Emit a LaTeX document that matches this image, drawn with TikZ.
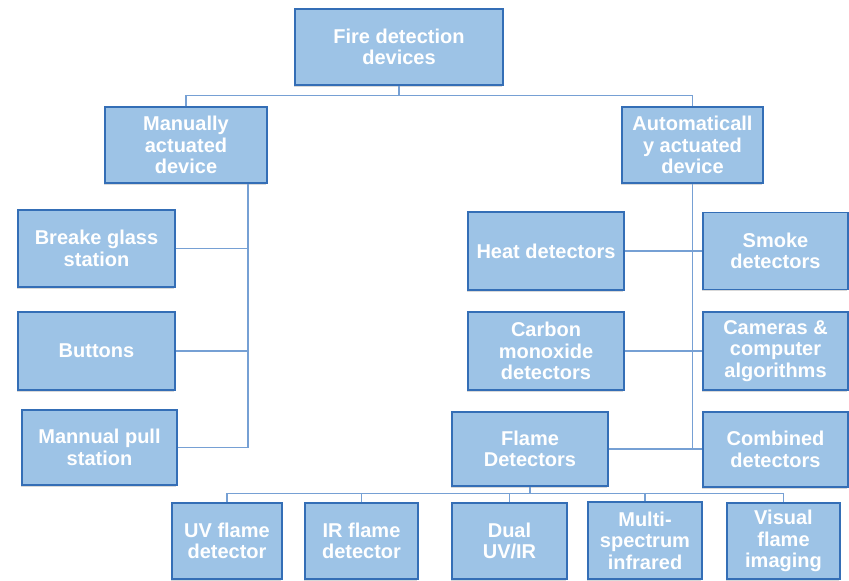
\documentclass[tikz,border=0pt]{standalone}
\usepackage{fontspec}
\setmainfont{Liberation Sans}
\usetikzlibrary{shadows}
\definecolor{boxfill}{RGB}{157,195,230}
\definecolor{boxline}{RGB}{52,110,182}
\definecolor{wire}{RGB}{118,160,212}
\tikzset{
  blk/.style={draw=boxline, line width=1.5pt, fill=boxfill, inner sep=0pt,
    align=center, text=white, font=\fontsize{20}{21.5}\selectfont\bfseries,
    drop shadow={shadow xshift=-1.5pt, shadow yshift=-1.5pt, opacity=0.25, fill=black!60}},
  link/.style={draw=wire, line width=1.3pt}
}
\begin{document}
\begin{tikzpicture}[x=1pt, y=-1pt]
\useasboundingbox (0,0) rectangle (849,581);

% root
\node[blk, minimum width=208pt, minimum height=76pt] (root) at (399,47) {Fire detection\\devices};

% second level
\node[blk, minimum width=162pt, minimum height=76pt] (manual) at (186,145) {Manually\\actuated\\device};
\node[blk, minimum width=141pt, minimum height=76pt] (auto) at (692.5,145) {Automaticall\\y actuated\\device};

% manual branch
\node[blk, minimum width=157pt, minimum height=77pt] (glass) at (96.5,248.5) {Breake glass\\station};
\node[blk, minimum width=157pt, minimum height=78pt] (buttons) at (96.5,351) {Buttons};
\node[blk, minimum width=155pt, minimum height=75pt] (pull) at (99.5,447.5) {Mannual pull\\station};

% automatic branch
\node[blk, minimum width=156pt, minimum height=78pt] (heat) at (546,251) {Heat detectors};
\node[blk, minimum width=145pt, minimum height=77pt] (smoke) at (775.5,251) {Smoke\\detectors};
\node[blk, minimum width=156pt, minimum height=78pt] (carbon) at (546,351) {Carbon\\monoxide\\detectors};
\node[blk, minimum width=145pt, minimum height=78pt] (cameras) at (775.5,351) {Cameras \&\\computer\\algorithms};
\node[blk, minimum width=156pt, minimum height=74pt] (flame) at (530,449) {Flame\\Detectors};
\node[blk, minimum width=145pt, minimum height=75pt] (combined) at (775.5,449.5) {Combined\\detectors};

% flame detector types
\node[blk, minimum width=110pt, minimum height=76pt] (uv) at (227,541) {UV flame\\detector};
\node[blk, minimum width=113pt, minimum height=76pt] (ir) at (361.5,541) {IR flame\\detector};
\node[blk, minimum width=115pt, minimum height=76pt] (dual) at (509.5,541) {Dual\\UV/IR};
\node[blk, minimum width=114pt, minimum height=77pt] (multi) at (645,540.5) {Multi-\\spectrum\\infrared};
\node[blk, minimum width=113pt, minimum height=76pt] (visual) at (783.5,541) {Visual\\flame\\imaging};

% root to second level
\draw[link] (root.south) -- ++(0,10) coordinate (rb);
\draw[link] (manual.north) |- (rb) -| (auto.north);

% manual spine
\coordinate (mspine) at ([xshift=62pt]manual.south);
\draw[link] (mspine) |- (pull.east);
\draw[link] (glass.east) -- (glass.east -| mspine);
\draw[link] (buttons.east) -- (buttons.east -| mspine);

% automatic spine
\draw[link] (auto.south) -- (auto.south |- flame.east);
\draw[link] (heat.east) -- (smoke.west);
\draw[link] (carbon.east) -- (cameras.west);
\draw[link] (flame.east) -- (flame.east -| combined.west);

% flame detector bus
\draw[link] (flame.south) -- ++(0,7) coordinate (fb);
\draw[link] (uv.north) |- (fb) -| (visual.north);
\draw[link] (ir.north) -- (ir.north |- fb);
\draw[link] (dual.north) -- (dual.north |- fb);
\draw[link] (multi.north) -- (multi.north |- fb);
\end{tikzpicture}
\end{document}
